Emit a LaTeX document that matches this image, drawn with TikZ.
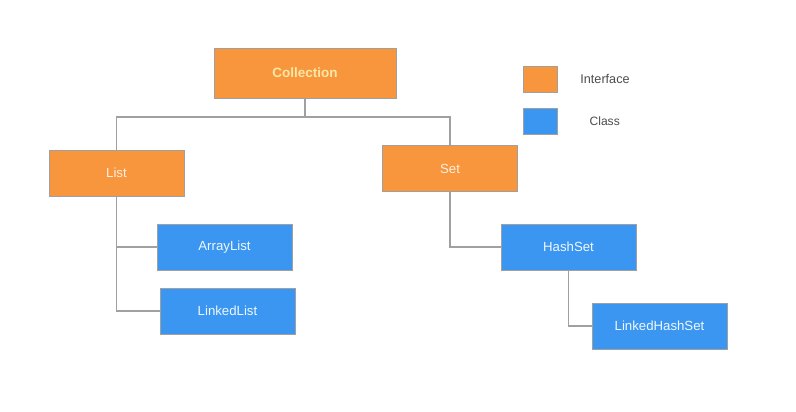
\documentclass[tikz,border=0pt]{standalone}
\usepackage{fontspec}
\setmainfont{Liberation Sans}
\usetikzlibrary{positioning}
\definecolor{jiekou}{RGB}{248,150,62}
\definecolor{leibie}{RGB}{58,150,240}
\definecolor{bian}{RGB}{160,160,160}
\definecolor{ziti}{RGB}{252,232,164}

\begin{document}
\begin{tikzpicture}[x=0.025cm,y=-0.025cm]
\tikzset{basic/.style={draw=bian,line width=0.6pt,inner sep=0pt,align=center,font=\fontsize{9.4}{11}\selectfont}}
\tikzset{jie/.style={basic, rectangle, fill=jiekou, text=white!85!jiekou,
  minimum width=3.375cm, minimum height=1.15cm}}
\tikzset{lei/.style={basic, rectangle, fill=leibie, text=white!92!leibie,
  minimum width=3.375cm, minimum height=1.15cm}}
\tikzset{xian/.style={draw=bian, line width=1pt}}
\tikzset{tuli/.style={basic, minimum width=0.85cm, minimum height=0.65cm}}

\useasboundingbox (0,0) rectangle (796,412);

\node[jie, minimum width=4.55cm, minimum height=1.25cm, text=ziti,
  font=\fontsize{9.6}{11}\selectfont\bfseries](col)at(305,73){Collection};
\node[jie](lst)at(116.5,173){List};
\node[jie](st)at(450,168.5){Set};
\node[lei](al)at(224.5,247){ArrayList};
\node[lei](ll)at(227.5,311){LinkedList};
\node[lei](hs)at(568.5,247){HashSet};
\node[lei](lhs)at(659.5,326){LinkedHashSet};

\node[tuli, fill=jiekou](t1)at(540,79){};
\node[right=0.45cm of t1, text=black!70, font=\fontsize{9}{11}\selectfont](t1s){Interface};
\node[tuli, fill=leibie](t2)at(540,121){};
\node[right=0.68cm of t2, text=black!70, font=\fontsize{8.6}{11}\selectfont](t2s){Class};

\coordinate (j0) at (305,117);

\path[xian] (col) -- (j0);
\path[xian] (lst.north) -- (lst.north |- j0) -| (st.north);
\path[xian] (lst.south) |- (al.west);
\path[xian] (lst.south) |- (ll.west);
\path[xian] (st.south) |- (hs.west);
\path[xian] (hs.south) |- (lhs.west);
\end{tikzpicture}
\end{document}
